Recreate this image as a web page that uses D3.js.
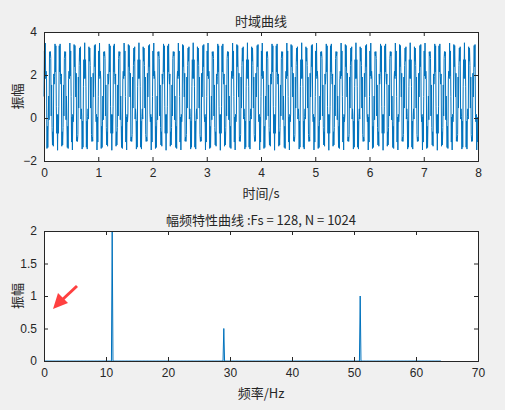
<!DOCTYPE html>
<html>
<head>
<meta charset="utf-8">
<style>
  body { margin: 0; background: #f0f0f0; }
  text { font-family: "Noto Sans CJK SC", "DejaVu Sans", sans-serif; }
</style>
</head>
<body>
<svg width="505" height="410"></svg>
<script src="https://d3js.org/d3.v7.min.js"></script>
<script>

// sampling read from the bottom title
var fs = 128, nPts = 1024;
// spectral components (Hz, amplitude)
var peakFreqs = [11, 29, 51];
var peakAmps = [2, 0.5, 1];
var dcOffset = 1;   // centre of the time trace

var timeTicks = [0, 1, 2, 3, 4, 5, 6, 7, 8];
var ampTicks = [-2, 0, 2, 4];
var freqTicks = [0, 10, 20, 30, 40, 50, 60, 70];
var magTicks = [0, 0.5, 1, 1.5, 2];

// time trace rebuilt from the components above
var timeData = d3.range(nPts).map(function(i) {
  var t = i / fs, v = dcOffset;
  peakFreqs.forEach(function(f, k) { v += peakAmps[k] * Math.sin(2 * Math.PI * f * t); });
  return {t: t, v: v};
});

// one-sided spectrum: zero except at the peaks
var specData = d3.range(nPts / 2 + 1).map(function(i) {
  var f = i * fs / nPts, k = peakFreqs.indexOf(f);
  return {f: f, m: k < 0 ? 0 : peakAmps[k]};
});

var svg = d3.select("svg"),
    blue = "#0072bd",
    left = 44, right = 478;

function panel(top, bottom, xd, yd, xt, yt, data, xk, yk, title, xlab) {
  var x = d3.scaleLinear().domain(xd).range([left, right]);
  var y = d3.scaleLinear().domain(yd).range([bottom, top]);
  svg.append("rect").attr("x", left).attr("y", top)
    .attr("width", right - left).attr("height", bottom - top).attr("fill", "#fff");

  svg.append("path").datum(data)
    .attr("fill", "none").attr("stroke", blue).attr("stroke-width", 1)
    .attr("d", d3.line().x(function(d) { return x(d[xk]); }).y(function(d) { return y(d[yk]); }));

  var gx = svg.append("g").attr("transform", "translate(0," + bottom + ")")
    .call(d3.axisBottom(x).tickValues(xt).tickSize(-4).tickPadding(7).tickFormat(d3.format("")));
  var gy = svg.append("g").attr("transform", "translate(" + left + ",0)")
    .call(d3.axisLeft(y).tickValues(yt).tickSize(-4).tickPadding(7).tickFormat(d3.format("")));
  svg.append("g").attr("transform", "translate(0," + top + ")")
    .call(d3.axisTop(x).tickValues(xt).tickSize(-4).tickFormat(""));
  svg.append("g").attr("transform", "translate(" + right + ",0)")
    .call(d3.axisRight(y).tickValues(yt).tickSize(-4).tickFormat(""));
  svg.selectAll(".domain, .tick line").attr("stroke", "#262626");
  svg.selectAll(".tick text").attr("fill", "#262626").attr("font-size", 12)
    .style("font-family", "Liberation Sans, Arial, sans-serif");

  svg.append("text").attr("x", (left + right) / 2).attr("y", top - 6)
    .attr("text-anchor", "middle").attr("font-size", 13).attr("fill", "#262626").text(title);
  svg.append("text").attr("x", (left + right) / 2).attr("y", bottom + 37)
    .attr("text-anchor", "middle").attr("font-size", 13).attr("fill", "#262626").text(xlab);
  svg.append("text").attr("transform", "translate(22," + (top + bottom) / 2 + ") rotate(-90)")
    .attr("text-anchor", "middle").attr("font-size", 13).attr("fill", "#262626").text("振幅");
}

panel(32, 161, [0, 8], [-2, 4], timeTicks, ampTicks, timeData, "t", "v", "时域曲线", "时间/s");
panel(231, 361, [0, 70], [0, 2], freqTicks, magTicks, specData, "f", "m",
      "幅频特性曲线 :Fs = 128, N = 1024", "频率/Hz");

// red annotation arrow
svg.append("line").attr("x1", 77).attr("y1", 286).attr("x2", 62).attr("y2", 300)
  .attr("stroke", "#ff4040").attr("stroke-width", 3);
svg.append("path").attr("d", "M53,309 L58,293 L68,303 Z").attr("fill", "#ff4040");

</script>
</body>
</html>
